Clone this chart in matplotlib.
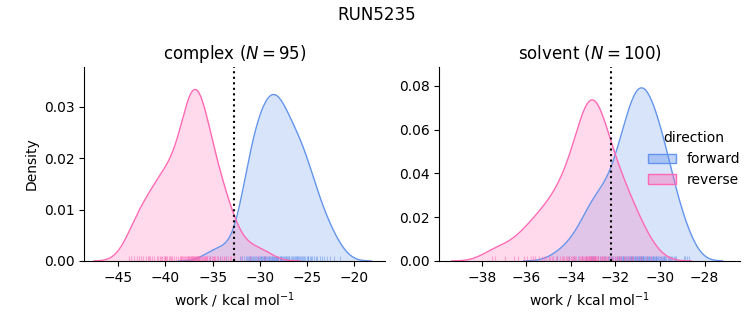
import numpy as np
import matplotlib
matplotlib.use("Agg")
import matplotlib.pyplot as plt
from matplotlib.patches import Patch

# work values (kcal/mol)
complex_forward = [
    -28.75, -28.7, -28.6, -28.5, -28.45, -23.4, -28.3, -28.2, -28.1, -28.05, -25.5, -27.9, -27.85, -28.15,
    -29.75, -29.7, -29.6, -29.5, -29.45, -29.4, -29.3, -29.2, -29.1, -29.05, -29.0, -28.9, -28.85,
    -27.75, -27.7, -27.6, -27.5, -27.4, -27.3, -27.25, -27.2, -27.1, -27.0, -26.9, -26.85,
    -30.75, -30.6, -30.5, -30.4, -30.3, -30.2, -30.1, -30.0, -29.9, -29.85,
    -26.7, -26.6, -26.5, -26.4, -26.3, -26.2, -26.1, -26.0, -25.9, -25.85,
    -31.7, -31.5, -31.4, -31.2, -31.1, -31.0, -30.9,
    -25.7, -25.6, -25.4, -25.3, -25.2, -25.0, -24.9, -24.85,
    -31.0, -30.8, -28.35, -24.6, -28.3, -32.1, -31.9,
    -24.7, -24.5, -24.3, -24.0, -23.9,
    -33.6,
    -23.6, -23.2, -22.9,
    -34.2, -22.6, -22.1, -35.3, -21.5,
]
complex_reverse = [
    -43.9, -43.6,
    -43.3, -43.0, -42.8, -42.6,
    -42.4, -42.1, -41.9, -41.7, -41.6,
    -41.4, -41.2, -33.8, -40.9, -40.8, -40.6, -40.5,
    -40.4, -40.2, -40.1, -40.0, -39.9, -39.8, -33.2, -39.6, -39.5,
    -39.4, -39.3, -39.1, -38.9, -38.7, -38.5,
    -38.4, -38.3, -38.2, -38.1, -38.0, -37.9, -37.8, -37.7, -37.65, -37.6, -37.5,
    -37.45, -37.4, -37.3, -37.25, -37.2, -37.15, -37.1, -37.05, -37.0, -36.95, -36.9, -36.85, -36.8,
    -36.75, -36.7, -36.65, -36.6, -36.55, -36.5,
    -36.45, -36.4, -36.3, -36.2, -36.1, -36.0, -35.9, -35.85, -35.8, -35.7, -35.6, -35.55,
    -35.4, -35.3, -35.1, -35.0, -34.9, -34.8, -34.7, -34.55,
    -34.4, -34.2, -34.0, -33.8, -33.6,
    -33.4, -33.0, -32.7,
    -32.0, -31.0, -30.2, -29.4,
]
solvent_forward = [
    -34.6, -34.1, -33.85,
    -33.7, -33.5, -33.3,
    -33.2, -33.1, -33.05, -33.0, -32.95, -32.9, -32.8,
    -32.7, -32.6, -32.5, -32.45, -32.35, -32.3,
    -32.2, -32.15, -32.1, -32.0, -31.95, -31.9, -31.85, -31.8, -31.75,
    -31.72, -31.68, -31.64, -31.6, -31.56, -31.52, -31.48, -31.44, -31.4, -31.36, -31.32, -31.28, -31.26,
    -31.24, -31.2, -31.17, -31.14, -31.11, -31.08, -31.05, -31.02, -30.99, -30.96, -30.93, -30.9, -30.87,
    -30.84, -30.81, -30.78, -30.75,
    -30.74, -30.7, -30.67, -30.64, -30.6, -30.57, -30.54, -30.5, -30.47, -30.44, -30.4, -30.36, -30.33,
    -30.3, -30.27,
    -30.24, -30.2, -30.16, -30.12, -30.08, -30.04, -30.0, -29.96, -29.92, -29.88, -29.84, -29.8, -29.77,
    -29.72, -29.66, -29.6, -29.55, -29.5, -29.44, -29.38, -29.32, -29.27,
    -30.85, -28.94, -28.88,
    -28.8, -28.7,
]
solvent_reverse = [
    -37.55, -37.4, -36.95, -36.55, -36.35,
    -36.1, -35.95, -35.8,
    -35.7, -35.6, -35.45, -35.3,
    -35.2, -35.1, -35.0, -34.95, -34.85, -34.8,
    -33.3, -34.65, -34.6, -34.5, -34.4, -34.35, -34.3,
    -34.22, -34.18, -34.12, -34.06, -34.0, -33.95, -33.9, -33.85, -33.8, -33.76,
    -33.15, -33.1, -33.64, -33.6, -33.56, -33.52, -33.48, -33.44, -33.4, -33.36, -33.32, -33.28, -33.26,
    -33.23, -33.2, -33.17, -33.14, -33.11, -33.08, -33.05, -33.02, -32.99, -32.96, -32.93, -32.9, -32.87,
    -32.84, -32.8,
    -32.95, -32.7, -32.66, -32.62, -32.58, -32.54, -32.5, -32.46, -32.42, -32.38, -32.34, -32.9, -32.26,
    -32.22, -32.16, -32.1, -32.04, -31.98, -31.92, -31.86, -31.82, -31.78, -31.76,
    -32.8, -31.62, -31.55, -31.48, -31.4, -31.33, -31.26,
    -31.2, -31.05, -30.9, -30.8,
    -30.6, -30.4, -33.0,
]

# free energy estimates (dotted lines)
dg_complex = -32.7
dg_solvent = -32.2

colors = {"forward": "#6495ED", "reverse": "#FF69B4"}

total = len(complex_forward) + len(complex_reverse) + len(solvent_forward) + len(solvent_reverse)


def kde(samples, cut=3, gridsize=200):
    s = np.asarray(samples)
    bw = s.std(ddof=1) * len(s) ** (-1 / 5)
    grid = np.linspace(s.min() - cut * bw, s.max() + cut * bw, gridsize)
    z = (grid[:, None] - s[None, :]) / bw
    dens = np.exp(-0.5 * z ** 2).sum(axis=1) / (len(s) * bw * np.sqrt(2 * np.pi))
    # common normalisation over every group
    return grid, dens * len(s) / total


fig, axes = plt.subplots(1, 2, figsize=(7.53, 3.25), dpi=100)
fig.subplots_adjust(left=0.112, right=0.983, bottom=0.197, top=0.794, wspace=0.18)

panels = [
    (axes[0], "complex", complex_forward, complex_reverse, dg_complex, (-48.6, -16.7), 0.0378),
    (axes[1], "solvent", solvent_forward, solvent_reverse, dg_solvent, (-39.9, -26.4), 0.0887),
]

for ax, phase, fwd, rev, dg, xl, ytop in panels:
    for name, data in (("forward", fwd), ("reverse", rev)):
        c = colors[name]
        x, y = kde(data)
        ax.fill_between(x, y, color=c, alpha=0.25, lw=0)
        ax.plot(x, y, color=c, lw=1)
        ax.vlines(data, 0, 0.025, color=c, alpha=0.5, lw=0.8,
                  transform=ax.get_xaxis_transform())
    ax.axvline(dg, color="black", ls=":", lw=1.5)
    ax.set_xlim(*xl)
    ax.set_ylim(0, ytop)
    ax.set_title(f"{phase} ($N = {len(fwd)}$)", fontsize=12)
    ax.set_xlabel("work / kcal mol$^{-1}$")
    ax.spines["top"].set_visible(False)
    ax.spines["right"].set_visible(False)

axes[0].set_ylabel("Density")
axes[1].set_ylabel("")

handles = [Patch(facecolor=matplotlib.colors.to_rgba(colors[k], 0.4), edgecolor=colors[k])
           for k in ("forward", "reverse")]
fig.legend(handles, ["forward", "reverse"], title="direction", loc="center right",
           bbox_to_anchor=(1.0, 0.51), frameon=False, fontsize=10, title_fontsize=10)

fig.suptitle("RUN5235", fontsize=12)
fig.savefig("out.png")
